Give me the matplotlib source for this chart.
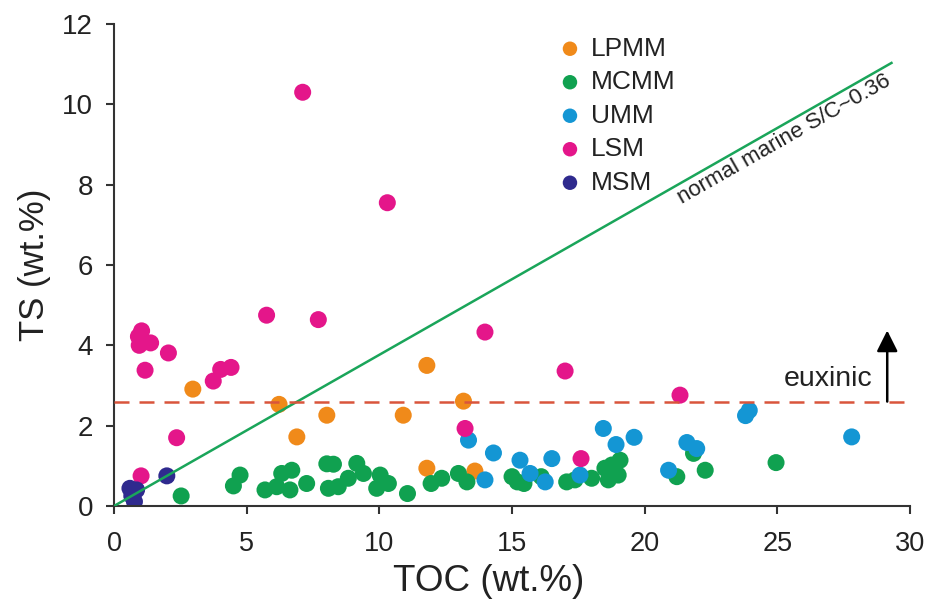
import matplotlib
matplotlib.use("Agg")
import matplotlib.pyplot as plt

plt.rcParams["font.family"] = ["Liberation Sans", "DejaVu Sans"]

# --- Data -----------------------------------------------------------------

lpmm_toc = [2.97, 6.22, 6.89, 8.02, 10.9, 11.79, 11.79, 13.17, 13.6]
lpmm_ts = [2.91, 2.53, 1.72, 2.26, 2.26, 3.50, 0.94, 2.61, 0.87]

mcmm_toc = [2.53, 4.50, 4.75, 5.69, 6.13, 6.32, 6.70, 6.63, 7.26, 8.02, 8.27,
            8.08, 8.45, 8.83, 9.15, 9.40, 10.03, 9.90, 10.34, 11.06, 11.95,
            12.35, 12.98, 13.3, 15.0, 15.2, 15.45, 16.1, 17.06, 17.37, 18.0,
            18.5, 18.76, 19.07, 18.63, 19.0, 21.84, 21.21, 22.28, 24.95]
mcmm_ts = [0.25, 0.50, 0.77, 0.40, 0.48, 0.81, 0.89, 0.40, 0.56, 1.05, 1.04,
           0.44, 0.48, 0.69, 1.06, 0.81, 0.77, 0.44, 0.56, 0.31, 0.56,
           0.69, 0.81, 0.60, 0.73, 0.60, 0.56, 0.73, 0.60, 0.65, 0.69,
           0.94, 1.02, 1.14, 0.65, 0.77, 1.31, 0.73, 0.89, 1.08]

umm_toc = [13.36, 14.30, 13.98, 15.3, 15.68, 16.5, 16.25, 17.56, 18.44, 18.92,
           19.6, 20.9, 21.59, 21.96, 23.94, 23.8, 27.8]
umm_ts = [1.64, 1.32, 0.65, 1.14, 0.81, 1.18, 0.60, 0.77, 1.93, 1.53,
          1.71, 0.89, 1.58, 1.43, 2.38, 2.25, 1.72]

lsm_toc = [0.92, 1.04, 0.95, 1.38, 1.17, 2.05, 2.36, 1.02, 3.74, 4.02, 4.41,
           5.75, 7.11, 7.70, 10.3, 13.98, 13.23, 17.0, 17.6, 21.33]
lsm_ts = [4.22, 4.36, 4.00, 4.06, 3.38, 3.81, 1.70, 0.75, 3.11, 3.40, 3.45,
          4.75, 10.30, 4.64, 7.55, 4.33, 1.93, 3.36, 1.18, 2.76]

msm_toc = [0.60, 0.85, 0.67, 0.77, 1.99]
msm_ts = [0.44, 0.40, 0.25, 0.11, 0.75]

# normal marine S/C line and euxinic threshold
marine_x = [0, 29.3]
marine_y = [0, 11.03]
euxinic_ts = 2.6
arrow_x, arrow_top = 29.14, 4.37

groups = [
    ("LPMM", lpmm_toc, lpmm_ts, "#f08a1a"),
    ("MCMM", mcmm_toc, mcmm_ts, "#10a150"),
    ("UMM", umm_toc, umm_ts, "#1496d4"),
    ("LSM", lsm_toc, lsm_ts, "#e4168a"),
    ("MSM", msm_toc, msm_ts, "#2f2a8e"),
]

# --- Plot ------------------------------------------------------------------

fig = plt.figure(figsize=(9.33, 6.07), dpi=100)
ax = fig.add_axes([0.1222, 0.1664, 0.8532, 0.7941])

for name, xs, ys, col in groups:
    ax.scatter(xs, ys, s=150, color=col, edgecolors="none", label=name, zorder=2)

ax.plot(marine_x, marine_y, color="#1aa55a", lw=1.8, zorder=3)
ax.axhline(euxinic_ts, color="#d9553c", lw=1.8, dashes=(6, 4), zorder=3)

# label sits just under the S/C line
lab_x = 25.0
slope = marine_y[1] / marine_x[1]
ax.annotate("normal marine S/C~0.36", xy=(lab_x, slope * lab_x),
            xytext=(1.0, -1.8), textcoords="offset points",
            rotation=29.7, rotation_mode="anchor", ha="center", va="top",
            fontsize=16, color="#222222", transform_rotates_text=True)

ax.annotate("", xy=(arrow_x, arrow_top), xytext=(arrow_x, euxinic_ts),
            arrowprops=dict(arrowstyle="-|>", color="black", lw=1.8,
                            mutation_scale=32, shrinkA=0, shrinkB=0))
ax.text(28.57, 3.17, "euxinic", ha="right", va="center", fontsize=20.5,
        color="#222222")

leg = ax.legend(loc="upper left", bbox_to_anchor=(0.533, 1.012), frameon=False,
                fontsize=19, handlelength=1.0, handletextpad=0.3,
                labelspacing=0.36, markerscale=0.85, borderaxespad=0.3)
for t in leg.get_texts():
    t.set_color("#222222")

ax.set_xlim(0, 30)
ax.set_ylim(0, 12)
ax.set_xticks([0, 5, 10, 15, 20, 25, 30])
ax.set_yticks([0, 2, 4, 6, 8, 10, 12])

for side in ("top", "right"):
    ax.spines[side].set_visible(False)
for side in ("left", "bottom"):
    ax.spines[side].set_linewidth(1.5)
    ax.spines[side].set_color("#333333")

ax.tick_params(direction="out", length=6, width=1.5, colors="#333333",
               labelcolor="#222222")
ax.tick_params(axis="y", labelsize=20, pad=9)
ax.tick_params(axis="x", labelsize=19.5, pad=12)

ax.set_xlabel("TOC (wt.%)", fontsize=26.5, color="#222222", labelpad=5, x=0.471)
ax.set_ylabel("TS (wt.%)", fontsize=25, color="#222222", labelpad=8)

fig.savefig("out.png", dpi=100)
